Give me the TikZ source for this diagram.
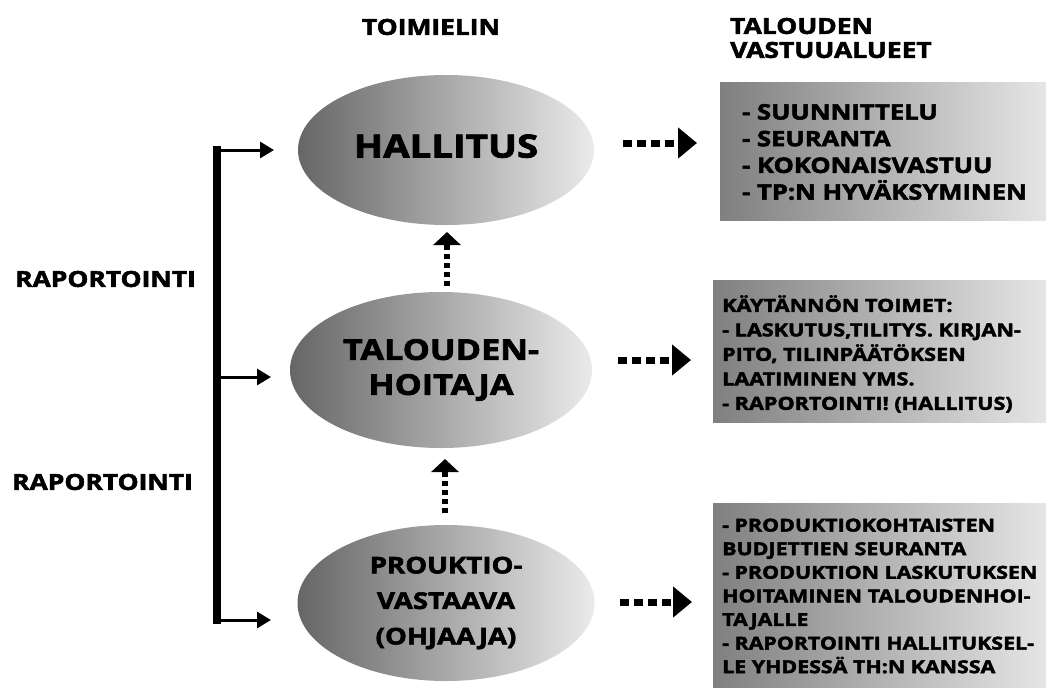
\documentclass[tikz,border=0pt]{standalone}
\usepackage{fontspec}
\setmainfont{Open Sans}[FakeStretch=1.2, Kerning=Off, BoldFeatures={FakeBold=2.5}]
\usetikzlibrary{arrows.meta,shapes.geometric}
\begin{document}
\begin{tikzpicture}[x=1pt,y=-1pt,
  ell/.style={ellipse, inner sep=0pt, draw=none, left color=black!60, right color=black!8, align=center},
  box/.style={rectangle, inner sep=0pt, draw=none, anchor=north west, left color=black!50, right color=black!10},
  btxt/.style={anchor=west, align=left, inner sep=0pt},
  hd/.style={inner sep=0pt, font=\bfseries\fontsize{22}{24}\selectfont},
  dotarr/.style={line width=7pt, dash pattern=on 9pt off 5pt, -{Triangle[length=19pt,width=30pt]}},
  vdotarr/.style={line width=6pt, dash pattern=on 5pt off 4pt, -{Triangle[length=13pt,width=27pt]}},
  rarr/.style={line width=3pt, -{Triangle[length=14pt,width=16pt]}}
]
\clip (0,0) rectangle (1046,689);
\fill[white] (0,0) rectangle (1046,689);

% headers
\node[hd] (h1) at (431,27) {TOIMIELIN};
\node[hd, anchor=west, align=left] (h2) at (730,38) {TALOUDEN\\VASTUUALUEET};

% ellipses
\node[ell, minimum width=296pt, minimum height=150pt, text depth=8pt, font=\bfseries\fontsize{32}{38}\selectfont] (e1) at (446,150) {HALLITUS};
\node[ell, minimum width=302pt, minimum height=156pt, font=\bfseries\fontsize{28.5}{35}\selectfont] (e2) at (441,370) {TALOUDEN-\\HOITAJA};
\node[ell, minimum width=297pt, minimum height=156pt, font=\bfseries\fontsize{23}{35.5}\selectfont] (e3) at (446,603) {PROUKTIO-\\VASTAAVA\\(OHJAAJA)};

% boxes
\node[box, minimum width=326pt, minimum height=138pt] (b1) at (720,82) {};
\node[box, minimum width=333pt, minimum height=142pt] (b2) at (713,280) {};
\node[box, minimum width=333pt, minimum height=184pt] (b3) at (713,503) {};

\node[btxt, font=\bfseries\fontsize{21.3}{26.7}\selectfont] (t1) at (742,152)
  {- SUUNNITTELU\\- SEURANTA\\- KOKONAISVASTUU\\- TP:N HYVÄKSYMINEN};
\node[btxt, font=\bfseries\fontsize{18}{24.5}\selectfont] (t2) at (722,354)
  {KÄYTÄNNÖN TOIMET:\\- LASKUTUS,TILITYS. KIRJAN-\\PITO, TILINPÄÄTÖKSEN\\LAATIMINEN YMS.\\- RAPORTOINTI! (HALLITUS)};
\node[btxt, font=\bfseries\fontsize{17.8}{23.6}\selectfont] (t3) at (722,596)
  {- PRODUKTIOKOHTAISTEN\\BUDJETTIEN SEURANTA\\- PRODUKTION LASKUTUKSEN\\HOITAMINEN TALOUDENHOI-\\TAJALLE\\- RAPORTOINTI HALLITUKSEL-\\LE YHDESSÄ TH:N KANSSA};

% left labels
\node[hd, anchor=west] (r1) at (15,279) {RAPORTOINTI};
\node[hd, anchor=west] (r2) at (12,482) {RAPORTOINTI};

% dotted horizontal arrows
\coordinate (a1s) at (623,143); \coordinate (a1e) at (697,143);
\coordinate (a2s) at (618,360); \coordinate (a2e) at (691,360);
\coordinate (a3s) at (620,602); \coordinate (a3e) at (692,602);
\draw[dotarr] (a1s) -- (a1e);
\draw[dotarr] (a2s) -- (a2e);
\draw[dotarr] (a3s) -- (a3e);

% dotted vertical arrows
\coordinate (v1s) at (447,286); \coordinate (v1e) at (447,232);
\coordinate (v2s) at (445,513); \coordinate (v2e) at (445,459);
\draw[vdotarr] (v1s) -- (v1e);
\draw[vdotarr] (v2s) -- (v2e);

% bracket
\coordinate (kt) at (217,146); \coordinate (kb) at (217,624);
\draw[line width=8pt] (kt) -- (kb);
\coordinate (k1) at (217,150); \coordinate (k2) at (217,377); \coordinate (k3) at (217,620);
\coordinate (p1) at (274,150); \coordinate (p2) at (271,377); \coordinate (p3) at (271,620);
\draw[rarr] (k1) -- (p1);
\draw[rarr] (k2) -- (p2);
\draw[rarr] (k3) -- (p3);
\end{tikzpicture}
\end{document}
